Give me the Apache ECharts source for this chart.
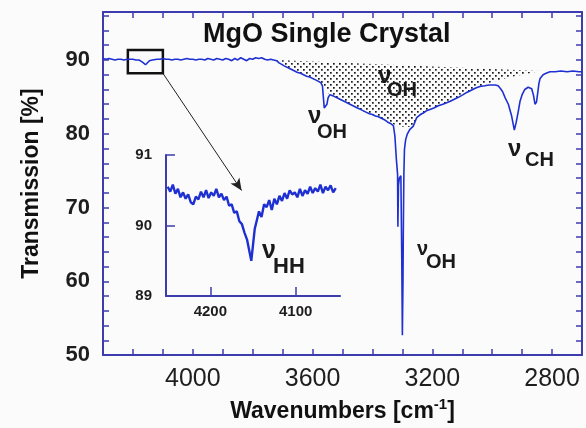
<!DOCTYPE html>
<html>
<head>
<meta charset="utf-8">
<script src="https://cdn.jsdelivr.net/npm/echarts@6/dist/echarts.min.js"></script>
<style>
html, body { margin: 0; padding: 0; background: #fbfbfb; }
#chart { width: 586px; height: 428px; }
</style>
</head>
<body>
<div id="chart"></div>
<script>
// main spectrum, wavenumber [cm-1] vs transmission [%]
const mainX = [4300, 4290, 4280, 4270, 4260, 4250, 4240, 4230, 4220, 4210, 4200, 4190, 4180, 4172, 4165, 4158, 4152, 4145, 4135, 4120,
  4110, 4100, 4090, 4080, 4070, 4060, 4050, 4040, 4030, 4020, 4010, 4000, 3990, 3980, 3970, 3960, 3950, 3940, 3930, 3920,
  3910, 3900, 3890, 3880, 3870, 3860, 3850, 3840, 3830, 3820, 3810, 3800, 3790, 3780, 3770, 3760, 3750, 3740, 3730, 3720,
  3712, 3703, 3695, 3690, 3680, 3670, 3660, 3650, 3640, 3630, 3620, 3610, 3600, 3590, 3580, 3572, 3567, 3564, 3561, 3556,
  3552, 3548, 3542, 3530, 3520, 3510, 3500, 3490, 3480, 3470, 3460, 3450, 3440, 3430, 3420, 3410, 3400, 3390, 3380, 3370,
  3360, 3350, 3340, 3330, 3325, 3320, 3316, 3315, 3313, 3310, 3305, 3302, 3300, 3298, 3297, 3295, 3293, 3289, 3284, 3275,
  3264, 3252, 3240, 3230, 3220, 3208, 3195, 3180, 3165, 3152, 3140, 3125, 3110, 3097, 3085, 3070, 3055, 3041, 3025, 3010,
  3000, 2990, 2980, 2972, 2965, 2957, 2946, 2935, 2926, 2920, 2913, 2907, 2900, 2891, 2880, 2874, 2868, 2862, 2857, 2852,
  2848, 2844, 2840, 2830, 2820, 2807, 2790, 2770, 2750, 2730, 2710, 2700];
const mainY = [90.2, 90.1, 90.2, 90.1, 90.0, 90.1, 90.1, 90.0, 90.1, 90.1, 90.1, 90.0, 90.0, 89.8, 89.6, 89.35, 89.6, 89.9, 90.0, 90.1,
  90.1, 90.2, 90.1, 90.1, 90.0, 90.1, 90.1, 90.0, 90.1, 90.2, 90.1, 90.1, 90.0, 90.1, 90.1, 90.0, 90.2, 90.1, 90.0, 90.2,
  90.1, 90.0, 90.2, 90.1, 89.9, 90.2, 90.0, 90.3, 90.1, 89.9, 90.2, 90.1, 90.3, 90.2, 90.3, 90.1, 90.0, 90.1, 90.0, 89.9,
  89.6, 89.4, 89.2, 89.0, 88.9, 88.7, 88.5, 88.3, 88.2, 88.0, 87.8, 87.7, 87.5, 87.3, 87.1, 86.9, 86.5, 85.0, 83.5, 83.6,
  84.0, 84.9, 85.3, 85.1, 84.9, 84.7, 84.5, 84.3, 84.1, 83.9, 83.7, 83.5, 83.3, 83.1, 82.9, 82.7, 82.6, 82.4, 82.3, 82.1,
  81.9, 81.6, 81.4, 81.1, 79.7, 76.5, 74.5, 67.4, 73.0, 74.0, 74.3, 63.0, 52.7, 60.0, 66.0, 74.5, 77.9, 79.2, 79.9, 80.6,
  81.0, 82.2, 82.6, 82.8, 83.1, 83.3, 83.5, 83.8, 84.0, 84.2, 84.4, 84.7, 85.0, 85.3, 85.6, 85.9, 86.2, 86.4, 86.5, 86.6,
  86.6, 86.6, 86.5, 86.1, 85.7, 84.9, 84.0, 82.4, 80.5, 81.5, 83.0, 84.4, 85.3, 86.0, 86.3, 86.4, 86.1, 85.2, 84.0, 84.3,
  85.5, 86.8, 87.5, 88.0, 88.2, 88.4, 88.4, 88.5, 88.4, 88.5, 88.4, 88.4];

// broad OH band (dotted area): straight baseline on top, band envelope below
const baseX = [3720, 2840];
const baseY = [90.0, 88.5];
const bandX = [3720, 3700, 3690, 3660, 3620, 3575, 3545, 3500, 3460, 3420, 3375, 3345, 3330, 3315, 3285, 3265, 3252, 3208, 3152, 3097,
  3041, 3000, 2950, 2900, 2840];
const bandLow = [90.0, 89.4, 89.0, 88.5, 87.8, 86.9, 85.4, 84.4, 83.7, 82.8, 82.2, 81.5, 81.3, 81.0, 80.9, 81.0, 82.2, 83.3, 84.2, 85.3,
  86.4, 87.0, 87.6, 88.0, 88.5];

// inset: region around 4150 cm-1
const insetX = [4250, 4247, 4244, 4241, 4238, 4235, 4232, 4229, 4226, 4223, 4220, 4217, 4214, 4211, 4208, 4205, 4202, 4199, 4196, 4193,
  4190, 4187, 4184, 4181, 4178, 4175, 4172, 4169, 4166, 4163, 4160, 4157, 4154, 4152, 4150, 4148, 4146, 4143, 4140, 4137,
  4134, 4131, 4128, 4125, 4122, 4119, 4116, 4113, 4110, 4107, 4104, 4101, 4098, 4095, 4092, 4089, 4086, 4083, 4080, 4077,
  4074, 4071, 4068, 4065, 4062, 4059, 4056, 4053];
const insetY = [90.55, 90.48, 90.58, 90.45, 90.52, 90.40, 90.47, 90.38, 90.44, 90.33, 90.30, 90.41, 90.37, 90.48, 90.40, 90.50, 90.39, 90.47, 90.42, 90.52,
  90.40, 90.45, 90.36, 90.41, 90.28, 90.30, 90.18, 90.20, 90.06, 90.02, 89.90, 89.80, 89.62, 89.50, 89.72, 89.95, 90.05, 90.20, 90.12, 90.30,
  90.26, 90.36, 90.22, 90.38, 90.30, 90.42, 90.35, 90.46, 90.38, 90.50, 90.44, 90.47, 90.40, 90.52, 90.42, 90.50, 90.45, 90.55, 90.46, 90.53,
  90.48, 90.58, 90.46, 90.55, 90.50, 90.57, 90.47, 90.53];

// zoom box on the main trace and the arrow to the inset
const boxFrom = [4217, 91.35];
const boxTo = [4100, 88.2];
const arrowFrom = [4100, 88.2];
const arrowTo = [3837, 72.3];

const mainTicks = [2800, 3200, 3600, 4000];
const insetTicks = [4100, 4200];

const axisBlue = '#3c3cae';
const lineBlue = '#1e30d2';
const font = 'Liberation Sans, Arial, Helvetica, sans-serif';

// stipple pattern for the OH band
const dots = document.createElement('canvas');
dots.width = 6; dots.height = 6;
const dctx = dots.getContext('2d');
dctx.fillStyle = '#1a1a1a';
dctx.fillRect(0, 0, 1.7, 1.7);
dctx.fillRect(3, 3, 1.7, 1.7);

const chart = echarts.init(document.getElementById('chart'));

function nu(x, y, sub, nuSize, subSize, dx, dy) {
  return {
    type: 'group', silent: true,
    children: [
      { type: 'text', x: x, y: y, style: { text: 'ν', font: 'bold ' + nuSize + 'px ' + font, fill: '#1a1a1a', verticalAlign: 'middle' } },
      { type: 'text', x: x + dx, y: y + dy, style: { text: sub, font: 'bold ' + subSize + 'px ' + font, fill: '#1a1a1a', verticalAlign: 'middle' } }
    ]
  };
}

chart.setOption({
  backgroundColor: '#fbfbfb',
  animation: false,
  grid: [
    { left: 103, top: 12, width: 479, height: 345 },
    { left: 166, top: 155, width: 174, height: 141 }
  ],
  xAxis: [{
    gridIndex: 0, type: 'value', min: 2700, max: 4300, interval: 100, inverse: true,
    axisLine: { lineStyle: { color: axisBlue, width: 2 } },
    axisTick: { inside: true, length: 6, lineStyle: { color: axisBlue, width: 1.5 } },
    axisLabel: {
      margin: 12, fontSize: 25, color: '#1e1e1e', fontFamily: font,
      formatter: v => mainTicks.includes(v) ? String(v) : ''
    },
    splitLine: { show: false },
    name: 'Wavenumbers [cm{sup|-1}]',
    nameLocation: 'middle', nameGap: 40,
    nameTextStyle: {
      fontSize: 23, fontWeight: 'bold', color: '#111', fontFamily: font,
      rich: { sup: { fontSize: 15, fontWeight: 'bold', color: '#111', verticalAlign: 'top', padding: [0, 0, 14, 0] } }
    }
  }, {
    gridIndex: 0, type: 'value', position: 'top', min: 2700, max: 4300, interval: 100, inverse: true,
    axisLine: { lineStyle: { color: axisBlue, width: 2 } },
    axisTick: { inside: true, length: 6, lineStyle: { color: axisBlue, width: 1.5 } },
    axisLabel: { show: false }, splitLine: { show: false }
  }, {
    gridIndex: 1, type: 'value', min: 4048, max: 4252, inverse: true,
    axisLine: { lineStyle: { color: axisBlue, width: 2 } },
    axisTick: { inside: true, length: 9, customValues: insetTicks, lineStyle: { color: axisBlue, width: 1.5 } },
    axisLabel: {
      margin: 8, fontSize: 15, fontWeight: 'bold', color: '#1e1e1e', fontFamily: font,
      customValues: insetTicks, formatter: v => String(v)
    },
    splitLine: { show: false }
  }],
  yAxis: [{
    gridIndex: 0, type: 'value', min: 50, max: 96.5, interval: 2,
    axisLine: { lineStyle: { color: axisBlue, width: 2 } },
    axisTick: { inside: true, length: 6, lineStyle: { color: axisBlue, width: 1.5 } },
    axisLabel: {
      margin: 13, fontSize: 22, fontWeight: 'bold', color: '#1e1e1e', fontFamily: font,
      formatter: v => v % 10 === 0 ? String(v) : ''
    },
    splitLine: { show: false },
    name: 'Transmission [%]',
    nameLocation: 'middle', nameGap: 60,
    nameTextStyle: { fontSize: 23, fontWeight: 'bold', color: '#111', fontFamily: font }
  }, {
    gridIndex: 0, type: 'value', position: 'right', min: 50, max: 96.5, interval: 2,
    axisLine: { lineStyle: { color: axisBlue, width: 2 } },
    axisTick: { inside: true, length: 6, lineStyle: { color: axisBlue, width: 1.5 } },
    axisLabel: { show: false }, splitLine: { show: false }
  }, {
    gridIndex: 1, type: 'value', min: 89, max: 91, interval: 1,
    axisLine: { lineStyle: { color: axisBlue, width: 2 } },
    axisTick: { inside: true, length: 9, lineStyle: { color: axisBlue, width: 1.5 } },
    axisLabel: { margin: 14, fontSize: 15, fontWeight: 'bold', color: '#1e1e1e', fontFamily: font },
    splitLine: { show: false }
  }],
  series: [{
    // dotted OH band
    type: 'custom', xAxisIndex: 0, yAxisIndex: 0, silent: true, z: 1,
    data: bandX.map((x, i) => [x, bandLow[i]]),
    renderItem: (params, api) => {
      if (params.dataIndex !== 0) return null;
      const pts = [api.coord([baseX[1], baseY[1]])];
      for (let i = bandX.length - 1; i >= 0; i--) pts.push(api.coord([bandX[i], bandLow[i]]));
      pts.push(api.coord([baseX[0], baseY[0]]));
      return {
        type: 'polygon',
        shape: { points: pts },
        style: { fill: { image: dots, repeat: 'repeat' }, stroke: null }
      };
    }
  }, {
    type: 'line', xAxisIndex: 0, yAxisIndex: 0, silent: true, z: 3,
    data: mainX.map((x, i) => [x, mainY[i]]),
    showSymbol: false, symbol: 'none',
    lineStyle: { color: lineBlue, width: 1.6 },
    markArea: {
      silent: true,
      itemStyle: { color: 'rgba(0,0,0,0)', borderColor: '#111', borderWidth: 2.5 },
      data: [[{ coord: boxFrom }, { coord: boxTo }]]
    },
    markLine: {
      silent: true, symbol: ['none', 'arrow'], symbolSize: [8, 12],
      lineStyle: { color: '#222', width: 1, type: 'solid' },
      label: { show: false },
      data: [[{ coord: arrowFrom }, { coord: arrowTo }]]
    }
  }, {
    type: 'line', xAxisIndex: 2, yAxisIndex: 2, silent: true, z: 3,
    data: insetX.map((x, i) => [x, insetY[i]]),
    showSymbol: false, symbol: 'none',
    lineStyle: { color: lineBlue, width: 2.4 }
  }],
  graphic: [
    { type: 'text', left: 203, top: 21, silent: true,
      style: { text: 'MgO Single Crystal', font: 'bold 27px ' + font, fill: '#111' } },
    nu(308, 116, 'OH', 24, 20, 9, 16),
    nu(378, 76, 'OH', 24, 20, 9, 14),
    nu(417, 249, 'OH', 20, 20, 9, 13),
    nu(508, 149, 'CH', 24, 20, 17, 11),
    nu(262, 251, 'HH', 25, 22, 11, 16)
  ]
});
</script>
</body>
</html>
